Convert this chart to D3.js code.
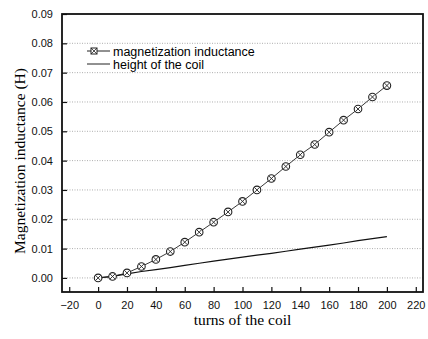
<!DOCTYPE html>
<html>
<head>
<meta charset="utf-8">
<script src="https://cdn.jsdelivr.net/npm/d3@7/dist/d3.min.js"></script>
<style>
  body { margin: 0; background: #fff; }
  svg { display: block; }
  .tick text { font-family: "Liberation Sans", Arial, sans-serif; font-size: 11px; fill: #111; }
</style>
</head>
<body>
<div id="chart"></div>
<script>
// turns of the coil
const turns = [0, 10, 20, 30, 40, 50, 60, 70, 80, 90, 100, 110, 120, 130, 140, 150, 160, 170, 180, 190, 200];
// magnetization inductance (H)
const inductance = [0.0000, 0.0005, 0.0017, 0.0039, 0.0063, 0.0090, 0.0122, 0.0156, 0.0190, 0.0225, 0.0261,
  0.0300, 0.0339, 0.0380, 0.0420, 0.0455, 0.0497, 0.0538, 0.0576, 0.0617, 0.0656];
// height of the coil (drawn on the same axis)
const coilHeight = [0.0000, 0.0005, 0.0014, 0.0022, 0.0028, 0.0035, 0.0043, 0.0050, 0.0057, 0.0064, 0.0071,
  0.0078, 0.0084, 0.0091, 0.0098, 0.0105, 0.0112, 0.0119, 0.0127, 0.0134, 0.0141];
const xTicks = [-20, 0, 20, 40, 60, 80, 100, 120, 140, 160, 180, 200, 220];
const yTicks = [0, 0.01, 0.02, 0.03, 0.04, 0.05, 0.06, 0.07, 0.08, 0.09];
const seriesNames = ['magnetization inductance', 'height of the coil'];

const width = 428, height = 339;
const margin = { top: 14, right: 5, bottom: 47, left: 62 };
const w = width - margin.left - margin.right;
const h = height - margin.top - margin.bottom;

const svg = d3.select('#chart').append('svg')
  .attr('width', width)
  .attr('height', height);

const g = svg.append('g')
  .attr('transform', `translate(${margin.left},${margin.top})`);

const x = d3.scaleLinear().domain([-25, 225]).range([0, w]);
const y = d3.scaleLinear().domain([-0.0048, 0.09]).range([h, 0]);

// dotted horizontal grid
g.selectAll('.grid')
  .data(yTicks.slice(0, -1))
  .enter().append('line')
  .attr('x1', 0).attr('x2', w)
  .attr('y1', d => y(d)).attr('y2', d => y(d))
  .attr('stroke', '#999')
  .attr('stroke-width', 0.8)
  .attr('stroke-dasharray', '1,1.5');

// axes, ticks point inward
const xAxis = g.append('g')
  .attr('transform', `translate(0,${h})`)
  .call(d3.axisBottom(x).tickValues(xTicks).tickSizeInner(-5).tickSizeOuter(0).tickPadding(9));
const yAxis = g.append('g')
  .call(d3.axisLeft(y).tickValues(yTicks).tickFormat(d3.format('.2f')).tickSizeInner(-5).tickSizeOuter(0).tickPadding(9));
[xAxis, yAxis].forEach(a => {
  a.select('.domain').remove();
  a.selectAll('.tick line').attr('stroke', '#111').attr('stroke-width', 1.2);
});

// frame
g.append('rect')
  .attr('width', w).attr('height', h)
  .attr('fill', 'none')
  .attr('stroke', '#111')
  .attr('stroke-width', 1.8);

// height of the coil line
const hLine = d3.line().x((d, i) => x(turns[i])).y(d => y(d));
g.append('path')
  .datum(coilHeight)
  .attr('fill', 'none')
  .attr('stroke', '#111')
  .attr('stroke-width', 1.2)
  .attr('d', hLine);

// magnetization inductance line + markers
g.append('path')
  .datum(inductance)
  .attr('fill', 'none')
  .attr('stroke', '#222')
  .attr('stroke-width', 0.9)
  .attr('d', hLine);

const r = 3.8;
const markers = g.selectAll('.mk')
  .data(inductance)
  .enter().append('g')
  .attr('transform', (d, i) => `translate(${x(turns[i])},${y(d)})`);
markers.append('circle')
  .attr('r', r)
  .attr('fill', '#fff')
  .attr('stroke', '#222')
  .attr('stroke-width', 1.1);
const k = r * 0.7;
markers.append('path')
  .attr('d', `M${-k},${-k}L${k},${k}M${-k},${k}L${k},${-k}`)
  .attr('stroke', '#222')
  .attr('stroke-width', 0.9);

// legend
const legFont = '"Liberation Sans", Arial, sans-serif';
const leg = svg.append('g').attr('transform', 'translate(87,51)');
leg.append('line').attr('x1', 0).attr('x2', 23).attr('y1', 0).attr('y2', 0)
  .attr('stroke', '#222').attr('stroke-width', 1);
leg.append('rect').attr('x', 4).attr('y', -3).attr('width', 6).attr('height', 6)
  .attr('fill', '#fff').attr('stroke', '#222').attr('stroke-width', 1);
leg.append('path').attr('d', 'M4,-3L10,3M4,3L10,-3').attr('stroke', '#222').attr('stroke-width', 0.8);
leg.append('text').attr('x', 26).attr('y', 4.5)
  .style('font-family', legFont).style('font-size', '12.5px')
  .text(seriesNames[0]);
leg.append('line').attr('x1', 0).attr('x2', 23).attr('y1', 13).attr('y2', 13)
  .attr('stroke', '#222').attr('stroke-width', 1);
leg.append('text').attr('x', 26).attr('y', 17.5)
  .style('font-family', legFont).style('font-size', '12.5px')
  .text(seriesNames[1]);

// axis titles
const titleFont = '"Liberation Serif", "Times New Roman", serif';
svg.append('text')
  .attr('x', margin.left + x(100)).attr('y', 325)
  .attr('text-anchor', 'middle')
  .style('font-family', titleFont).style('font-size', '15.5px')
  .text('turns of the coil');
svg.append('text')
  .attr('transform', `translate(25,161) rotate(-90)`)
  .attr('text-anchor', 'middle')
  .style('font-family', titleFont).style('font-size', '15.5px')
  .text('Magnetization inductance (H)');
</script>
</body>
</html>
